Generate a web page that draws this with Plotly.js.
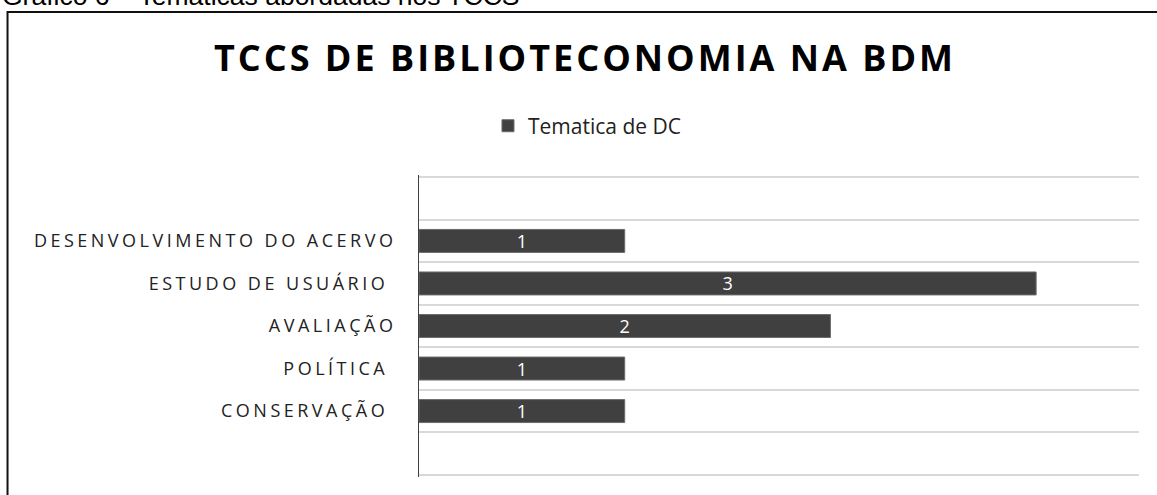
<!DOCTYPE html>
<html>
<head>
<meta charset="utf-8">
<script src="https://cdn.plot.ly/plotly-3.0.1.min.js"></script>
<style>
  html, body { margin: 0; padding: 0; background: #fff; }
  #chart { width: 1157px; height: 495px; }
  .ytick text { letter-spacing: 3.5px; }
  .gtitle { letter-spacing: 3px; }
</style>
</head>
<body>
<div id="chart"></div>
<script>
// Data (top to bottom as shown)
const categories = ['DESENVOLVIMENTO DO ACERVO', 'ESTUDO DE USUÁRIO\u00a0', 'AVALIAÇÃO', 'POLÍTICA\u00a0', 'CONSERVAÇÃO\u00a0'];
const values = [1, 3, 2, 1, 1];
const seriesName = 'Tematica de DC';
const chartTitle = 'TCCS DE BIBLIOTECONOMIA NA BDM';
const caption = 'Gráfico 6 – Temáticas abordadas nos TCCS';

const positions = categories.map((c, i) => i);

const trace = {
  type: 'bar',
  orientation: 'h',
  name: seriesName,
  x: values,
  y: positions,
  width: 0.54,
  marker: { color: '#404040', line: { color: '#6b6b6b', width: 1 } },
  text: values.map(String),
  textposition: 'inside',
  insidetextanchor: 'middle',
  textangle: 0,
  constraintext: 'none',
  textfont: { family: 'Open Sans', size: 18, color: '#ffffff' },
  hoverinfo: 'skip',
  showlegend: true
};

const layout = {
  width: 1157,
  height: 495,
  paper_bgcolor: '#ffffff',
  plot_bgcolor: '#ffffff',
  margin: { l: 419, r: 18, t: 175, b: 18, pad: 0 },
  font: { family: 'Open Sans', color: '#333333' },
  title: {
    text: '<b>' + chartTitle + '</b>',
    font: { family: 'Open Sans', size: 36, color: '#000000' },
    xref: 'container', x: 0.5056,
    yref: 'container', y: 0.882, yanchor: 'middle', xanchor: 'center'
  },
  showlegend: true,
  legend: {
    orientation: 'h',
    x: 0.0958, xanchor: 'left',
    y: 1.162, yanchor: 'middle',
    font: { family: 'Open Sans', size: 21, color: '#222222' },
    bgcolor: 'rgba(0,0,0,0)'
  },
  xaxis: {
    range: [0, 3.5],
    showgrid: false,
    zeroline: false,
    showticklabels: false,
    showline: false,
    ticks: '',
    fixedrange: true
  },
  yaxis: {
    range: [5.55, -1.55],
    tickmode: 'array',
    tickvals: positions,
    ticktext: categories,
    ticks: '',
    ticklabelstandoff: 18,
    tickfont: { family: 'Open Sans', size: 18, color: '#222222' },
    showgrid: false,
    zeroline: false,
    showline: true,
    linecolor: '#404040',
    linewidth: 1,
    minor: { tick0: 0.5, dtick: 1, showgrid: true, gridcolor: '#d9d9d9', gridwidth: 2, ticks: '' },
    fixedrange: true
  },
  shapes: [
    {
      type: 'rect', xref: 'paper', yref: 'paper',
      x0: -0.5715, x1: 1.06, y0: -0.12, y1: 1.5397,
      line: { color: '#111111', width: 2 },
      fillcolor: 'rgba(0,0,0,0)', layer: 'below'
    }
  ],
  annotations: [
    {
      text: caption,
      xref: 'paper', yref: 'paper',
      x: -0.582, xanchor: 'left',
      y: 1.594, yanchor: 'middle',
      showarrow: false,
      font: { family: 'Liberation Sans', size: 26.5, color: '#000000' }
    }
  ]
};

Plotly.newPlot('chart', [trace], layout, { displayModeBar: false, staticPlot: true });
</script>
</body>
</html>
